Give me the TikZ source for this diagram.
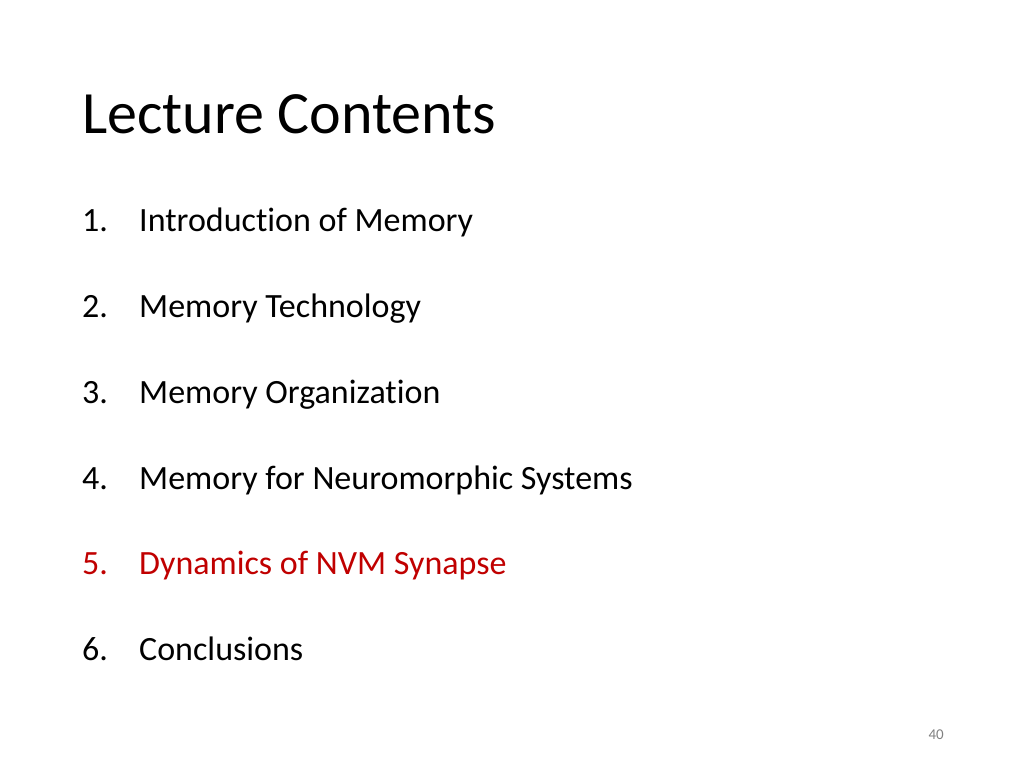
\documentclass[tikz,border=0pt]{standalone}
\usepackage{fontspec}
\setmainfont[Ligatures={NoCommon}]{Carlito}
\definecolor{hl}{RGB}{192,0,0}
\begin{document}
\begin{tikzpicture}[x=1pt,y=-1pt,
  item/.style={anchor=base west,inner sep=0pt,font=\fontsize{34}{40}\selectfont},
  title/.style={anchor=base west,inner sep=0pt,font=\fontsize{60}{70}\selectfont}]
\useasboundingbox (0,0) rectangle (1024,768);
\node[title] (t) at (82,133) {Lecture Contents};
\foreach \n/\txt/\y in {1/Introduction of Memory/231,2/Memory Technology/317,3/Memory Organization/403,4/Memory for Neuromorphic Systems/489,6/Conclusions/660}{
  \node[item] (n\n) at (82,\y) {\n.};
  \node[item] (i\n) at (139,\y) {\txt};
}
\node[item,text=hl] (n5) at (82,574) {5.};
\node[item,text=hl] (i5) at (139,574) {Dynamics of NVM Synapse};
\node[anchor=base east,inner sep=0pt,text=gray,font=\fontsize{15}{17}\selectfont] (pg) at (944,739) {40};
\end{tikzpicture}
\end{document}
